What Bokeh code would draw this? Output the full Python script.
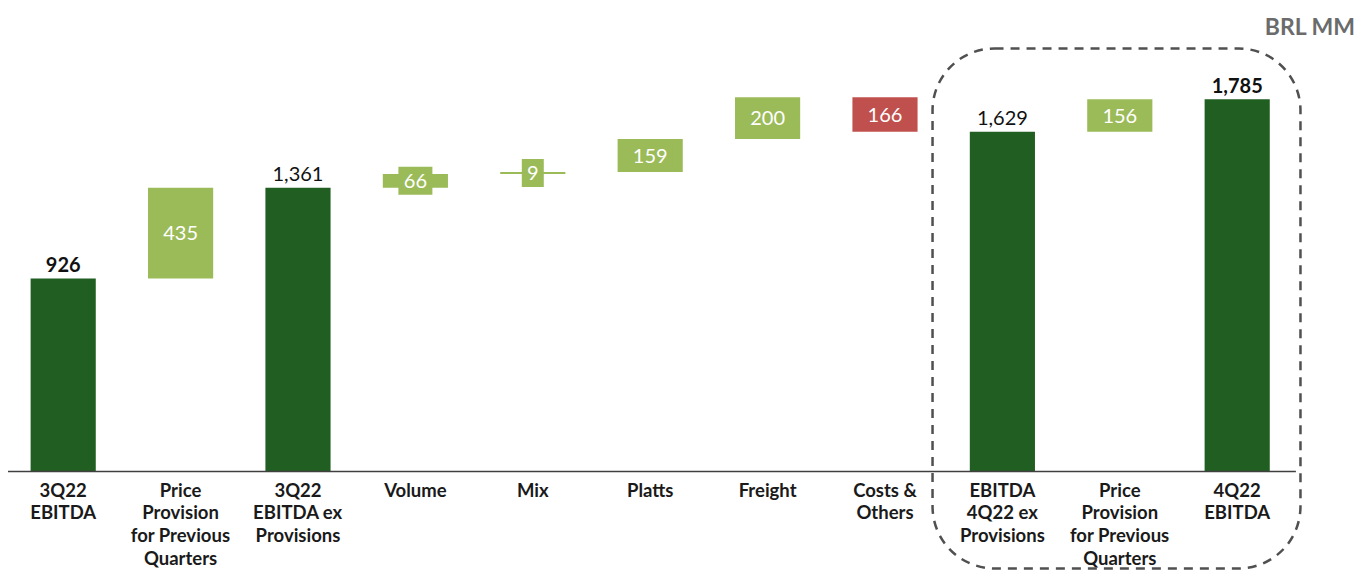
from bokeh.plotting import figure
from bokeh.models import Range1d, ColumnDataSource, BoxAnnotation
from bokeh.core.properties import value
from bokeh.embed import file_html
from bokeh.resources import INLINE

# ---- data ----
categories = ["3Q22\nEBITDA", "Price\nProvision\nfor Previous\nQuarters", "3Q22\nEBITDA ex\nProvisions",
              "Volume", "Mix", "Platts", "Freight", "Costs &\nOthers",
              "EBITDA\n4Q22 ex\nProvisions", "Price\nProvision\nfor Previous\nQuarters", "4Q22\nEBITDA"]
values = [926, 435, 1361, 66, 9, 159, 200, -166, 1629, 156, 1785]
kinds = ["total", "delta", "total", "delta", "delta", "delta", "delta", "delta", "total", "delta", "total"]
bold_totals = [True, False, False, False, False, False, False, False, False, False, True]
unit_label = "BRL MM"

DARK = "#215E21"
LIGHT = "#9BBB59"
RED = "#C0504D"
FONT = "Lato"

# ---- compute waterfall ----
xs, bottoms, tops, colors = [], [], [], []
running = 0
for i, (v, k) in enumerate(zip(values, kinds)):
    xs.append(i)
    if k == "total":
        bottoms.append(0); tops.append(v); colors.append(DARK)
        running = v
    else:
        b, t = running, running + v
        bottoms.append(min(b, t)); tops.append(max(b, t))
        colors.append(LIGHT if v >= 0 else RED)
        running = t

src = ColumnDataSource(dict(x=xs, bottom=bottoms, top=tops, color=colors))

W, H = 1369, 570
p = figure(width=W, height=H, output_backend="svg", toolbar_location=None,
           x_range=Range1d(-0.534, 11.127), y_range=Range1d(-474.8, 2259),
           min_border=0, min_border_left=0, min_border_right=0, min_border_top=0, min_border_bottom=0)
p.axis.visible = False
p.grid.visible = False
p.outline_line_color = None
p.background_fill_color = "white"

p.vbar(x="x", bottom="bottom", top="top", width=0.555, color="color", source=src, line_color=None)

# baseline
p.segment(x0=[-0.47], y0=[0], x1=[10.5], y1=[0], line_color="#404040", line_width=1.5)

# category labels
p.text(x=xs, y=[0] * len(xs), text=categories, text_align="center", text_baseline="top",
       y_offset=7, text_font=value(FONT), text_font_size="18.5px", text_font_style="bold",
       text_color="#1a1a1a", text_line_height=1.04)

# total labels
tx = [i for i, k in enumerate(kinds) if k == "total"]
for i in tx:
    p.text(x=[i], y=[tops[i]], text=[f"{values[i]:,}"], text_align="center", text_baseline="alphabetic",
           y_offset=-14, text_font=value(FONT), text_font_size="20px",
           text_font_style="bold" if bold_totals[i] else "normal", text_color="#111111")

# delta labels with background boxes
dx = [i for i, k in enumerate(kinds) if k == "delta"]
dy = [(bottoms[i] + tops[i]) / 2 for i in dx]
dtext = [str(abs(values[i])) for i in dx]
dcol = [colors[i] for i in dx]
dw = [10 + 12 * len(t) for t in dtext]
p.rect(x=dx, y=dy, width=dw, height=[28] * len(dx), width_units="screen", height_units="screen",
       fill_color=dcol, line_color=None)
p.text(x=dx, y=dy, text=dtext, text_align="center", text_baseline="middle",
       text_font=value(FONT), text_font_size="20px", text_color="white")

# dashed rounded box
box = BoxAnnotation(left=7.405, right=10.539, top=2029, bottom=-465, fill_alpha=0,
                    line_color="#505050", line_alpha=1.0, line_width=2.5, line_dash="9 7",
                    border_radius=62)
p.add_layout(box)

# unit label
p.text(x=[11.01], y=[2139], text=[unit_label], text_align="right", text_baseline="middle",
       text_font=value(FONT), text_font_size="23px", text_font_style="bold", text_color="#6b6b6b")

open("out.html", "w").write(file_html(p, INLINE))
